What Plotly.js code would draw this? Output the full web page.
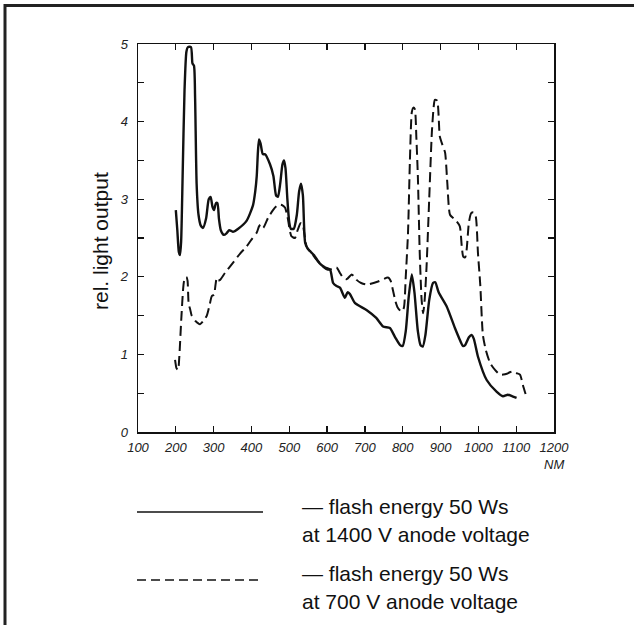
<!DOCTYPE html>
<html>
<head>
<meta charset="utf-8">
<script src="https://cdn.plot.ly/plotly-3.0.1.min.js"></script>
<style>html,body{margin:0;padding:0;background:#fff;}#chart{width:634px;height:625px;}</style>
</head>
<body>
<div id="chart"></div>
<script>
// Solid curve: flash energy 50 Ws at 1400 V anode voltage
const wlSolid = [200,204,208,211,214,218,223,228,232,240,244,248,251,255,260,266,272,280,287,292,297,301,306,310,314,319,327,334,341,347,351,365,387,404,410,414,417,420,424,430,436,449,458,465,470,476,482,486,490,495,500,504,512,520,526,531,536,542,549,555,565,581,595,608,616,625,634,647,654,660,674,705,730,748,766,780,793,800,808,816,824,831,840,847,853,860,870,880,886,895,916,938,950,959,965,975,982,988,999,1022,1048,1065,1078,1090,1101];
const valSolid = [2.86,2.6,2.32,2.28,2.45,3.3,4.4,4.9,4.96,4.96,4.75,4.72,4.3,3.2,2.8,2.66,2.63,2.75,3.0,3.03,2.9,2.86,2.95,2.95,2.75,2.6,2.54,2.56,2.6,2.59,2.58,2.62,2.72,2.92,3.1,3.3,3.6,3.77,3.72,3.58,3.58,3.45,3.3,3.05,3.03,3.2,3.45,3.5,3.4,3.0,2.7,2.62,2.62,2.8,3.1,3.2,3.05,2.44,2.36,2.33,2.28,2.17,2.12,2.09,1.92,1.88,1.86,1.73,1.8,1.78,1.66,1.57,1.47,1.36,1.34,1.22,1.12,1.11,1.3,1.75,2.03,1.8,1.3,1.12,1.1,1.25,1.7,1.92,1.93,1.8,1.62,1.34,1.2,1.11,1.12,1.22,1.25,1.2,0.97,0.67,0.52,0.46,0.48,0.46,0.44];

// Dashed curve: flash energy 50 Ws at 700 V anode voltage
const wlDashed = [198,202,206,209,215,222,228,231,234,238,242,252,264,274,282,290,295,301,305,308,312,317,330,351,370,387,400,414,420,424,431,444,457,466,475,482,489,494,497,502,506,515,522,530,535,540,546,560,572,589,602,612,625,634,642,652,665,672,678,690,705,735,761,768,774,781,787,797,803,808,814,819,824,828,832,836,840,845,850,854,858,863,870,877,882,885,891,898,905,912,918,925,935,943,951,956,960,965,969,975,981,987,993,999,1005,1012,1020,1031,1044,1057,1066,1075,1083,1091,1100,1110,1118,1128];
const valDashed = [0.93,0.82,0.8,0.95,1.5,1.95,2.0,1.95,1.65,1.58,1.5,1.43,1.39,1.44,1.5,1.65,1.75,1.77,1.9,1.98,1.95,1.96,2.05,2.18,2.3,2.39,2.48,2.57,2.65,2.67,2.63,2.76,2.86,2.91,2.93,2.92,2.89,2.8,2.73,2.58,2.52,2.5,2.6,2.69,2.68,2.55,2.39,2.3,2.22,2.13,2.09,2.1,2.12,2.05,1.99,1.97,2.03,2.0,1.96,1.92,1.9,1.94,1.99,1.95,1.83,1.68,1.6,1.55,1.6,2.0,2.57,3.5,4.12,4.18,4.16,3.8,3.3,2.3,1.7,1.53,1.7,2.13,3.0,3.86,4.2,4.28,4.27,3.81,3.7,3.6,3.2,2.8,2.75,2.71,2.65,2.4,2.26,2.25,2.35,2.7,2.82,2.83,2.78,2.3,1.9,1.25,1.05,0.89,0.8,0.74,0.74,0.75,0.77,0.78,0.76,0.74,0.6,0.44];

const xTicks = [100,200,300,400,500,600,700,800,900,1000,1100,1200];
const xTickText = ['100','200','300','400','500','600','700','800','900','1000','1100','1200'];
const yTicks = [0,0.5,1,1.5,2,2.5,3,3.5,4,4.5,5];
const yTickText = ['0','','1','','2','','3','','4','','5'];

const yTitle = 'rel. light output';
const xUnit = 'NM';
const legendSolid = ['— flash energy 50 Ws', 'at 1400 V anode voltage'];
const legendDashed = ['— flash energy 50 Ws', 'at 700 V anode voltage'];

const FONT = 'Liberation Sans, Arial, sans-serif';

// paper-coordinate helpers from pixel positions (plot area 138..554 x 44..432)
const L = 138, R = 80, T = 44, B = 193, W = 634, H = 625;
const pw = W - L - R, ph = H - T - B;
const px = x => (x - L) / pw;
const py = y => (H - B - y) / ph;

const traces = [
  {x: wlSolid, y: valSolid, type: 'scatter', mode: 'lines',
   line: {color: '#111', width: 2.4, shape: 'spline', smoothing: 0.6}, hoverinfo: 'skip'},
  {x: wlDashed, y: valDashed, type: 'scatter', mode: 'lines',
   line: {color: '#111', width: 2, dash: '10px,5px', shape: 'spline', smoothing: 0.6}, hoverinfo: 'skip'}
];

const layout = {
  width: W, height: H,
  margin: {l: L, r: R, t: T, b: B, pad: 0},
  paper_bgcolor: '#fff', plot_bgcolor: '#fff',
  showlegend: false,
  xaxis: {
    range: [100, 1200], tickvals: xTicks, ticktext: xTickText,
    ticks: 'inside', ticklen: 6, tickwidth: 1.3, tickcolor: '#111',
    showline: true, linecolor: '#111', linewidth: 1.5, mirror: 'ticks',
    showgrid: false, zeroline: false,
    tickfont: {family: FONT, size: 13, color: '#222', style: 'italic'},
    ticklabelstandoff: 3
  },
  yaxis: {
    range: [0, 5], tickvals: yTicks, ticktext: yTickText,
    ticks: 'inside', ticklen: 6, tickwidth: 1.3, tickcolor: '#111',
    showline: true, linecolor: '#111', linewidth: 1.5, mirror: 'ticks',
    showgrid: false, zeroline: false,
    tickfont: {family: FONT, size: 13, color: '#222', style: 'italic'},
    ticklabelstandoff: 6
  },
  shapes: [
    // frame (top and left border)
    {type: 'line', xref: 'paper', yref: 'paper', x0: px(4), x1: px(634), y0: py(5.5), y1: py(5.5), line: {color: '#222', width: 3}},
    {type: 'line', xref: 'paper', yref: 'paper', x0: px(5), x1: px(5), y0: py(4), y1: py(625), line: {color: '#222', width: 3}},
    // legend lines
    {type: 'line', xref: 'paper', yref: 'paper', x0: px(137), x1: px(263), y0: py(512), y1: py(512), line: {color: '#111', width: 1.5}},
    {type: 'line', xref: 'paper', yref: 'paper', x0: px(137), x1: px(263), y0: py(580), y1: py(580), line: {color: '#111', width: 1.5, dash: '9px,5px'}}
  ],
  annotations: [
    {text: yTitle, xref: 'paper', yref: 'paper', x: px(100), y: py(241), textangle: -90, showarrow: false,
     xanchor: 'center', yanchor: 'middle', font: {family: FONT, size: 21, color: '#111'}},
    {text: xUnit, xref: 'paper', yref: 'paper', x: px(554), y: py(465), showarrow: false,
     xanchor: 'center', yanchor: 'middle', font: {family: FONT, size: 13, color: '#222', style: 'italic'}},
    {text: legendSolid[0], xref: 'paper', yref: 'paper', x: px(300), y: py(506), showarrow: false,
     xanchor: 'left', yanchor: 'middle', font: {family: FONT, size: 21, color: '#111'}},
    {text: legendSolid[1], xref: 'paper', yref: 'paper', x: px(300), y: py(534), showarrow: false,
     xanchor: 'left', yanchor: 'middle', font: {family: FONT, size: 21, color: '#111'}},
    {text: legendDashed[0], xref: 'paper', yref: 'paper', x: px(300), y: py(573), showarrow: false,
     xanchor: 'left', yanchor: 'middle', font: {family: FONT, size: 21, color: '#111'}},
    {text: legendDashed[1], xref: 'paper', yref: 'paper', x: px(300), y: py(601), showarrow: false,
     xanchor: 'left', yanchor: 'middle', font: {family: FONT, size: 21, color: '#111'}}
  ]
};

Plotly.newPlot('chart', traces, layout, {staticPlot: true, displayModeBar: false});
</script>
</body>
</html>
